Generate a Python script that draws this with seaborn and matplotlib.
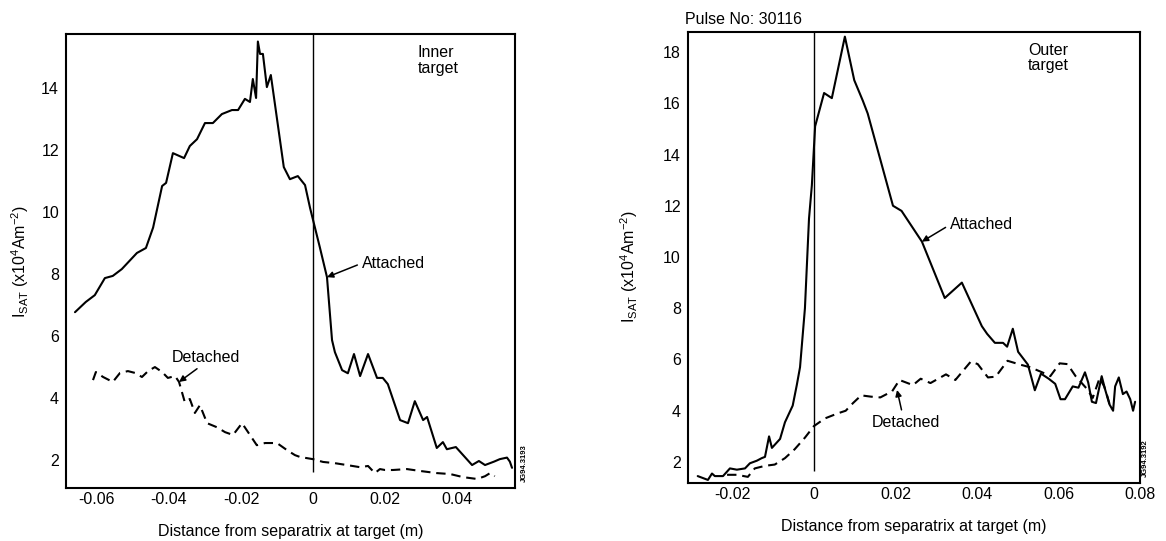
import numpy as np
import pandas as pd
import matplotlib
matplotlib.use("Agg")
import matplotlib.pyplot as plt
import seaborn as sns

# ---- Inner target (distance in m, I_sat in 1e4 A m^-2) ----
inner_att_x = [-0.0661, -0.0631, -0.0606, -0.0578, -0.0556, -0.0531, -0.0489, -0.0464,
               -0.0444, -0.0419, -0.0408, -0.0389, -0.0358, -0.0342, -0.0322, -0.0300,
               -0.0278, -0.0253, -0.0225, -0.0208, -0.0189, -0.0175, -0.0167, -0.0158,
               -0.0153, -0.0147, -0.0139, -0.0128, -0.0117, -0.0081, -0.0064, -0.0042,
               -0.0022, -0.0008, 0.0019, 0.0039, 0.0053, 0.0061, 0.0081, 0.0097,
               0.0114, 0.0131, 0.0153, 0.0178, 0.0194, 0.0208, 0.0242, 0.0264,
               0.0283, 0.0306, 0.0317, 0.0344, 0.0361, 0.0372, 0.0397, 0.0442,
               0.0461, 0.0478, 0.0503, 0.0519, 0.0539, 0.0547, 0.0553]
inner_att_y = [6.77, 7.10, 7.32, 7.87, 7.94, 8.16, 8.68, 8.84,
               9.50, 10.84, 10.94, 11.90, 11.74, 12.13, 12.35, 12.87,
               12.87, 13.16, 13.29, 13.29, 13.65, 13.55, 14.29, 13.68,
               15.50, 15.10, 15.10, 14.03, 14.42, 11.45, 11.06, 11.16,
               10.87, 10.13, 8.87, 7.90, 5.87, 5.48, 4.90, 4.80,
               5.42, 4.71, 5.42, 4.65, 4.65, 4.45, 3.29, 3.19,
               3.90, 3.29, 3.39, 2.39, 2.58, 2.35, 2.42, 1.84,
               1.97, 1.84, 1.95, 2.03, 2.08, 1.95, 1.75]

inner_det_x = [-0.0611, -0.0603, -0.0583, -0.0556, -0.0536, -0.0514, -0.0494, -0.0475,
               -0.0458, -0.0439, -0.0419, -0.0403, -0.0383, -0.0372, -0.0356, -0.0342,
               -0.0328, -0.0314, -0.0294, -0.0267, -0.0244, -0.0222, -0.0197, -0.0175,
               -0.0156, -0.0133, -0.0100, -0.0072, -0.0050, -0.0036, 0.0000, 0.0028,
               0.0061, 0.0094, 0.0131, 0.0153, 0.0172, 0.0186, 0.0200, 0.0222,
               0.0261, 0.0297, 0.0344, 0.0381, 0.0417, 0.0456, 0.0478, 0.0492, 0.0505]
inner_det_y = [4.58, 4.84, 4.68, 4.52, 4.81, 4.87, 4.81, 4.68,
               4.87, 5.00, 4.84, 4.65, 4.71, 4.52, 3.87, 3.97,
               3.52, 3.77, 3.19, 3.06, 2.90, 2.81, 3.19, 2.81,
               2.48, 2.55, 2.55, 2.32, 2.16, 2.10, 2.03, 1.94,
               1.90, 1.84, 1.77, 1.81, 1.58, 1.71, 1.68, 1.68,
               1.71, 1.65, 1.58, 1.55, 1.45, 1.39, 1.48, 1.58, 1.48]

# ---- Outer target ----
outer_att_x = [-0.0285, -0.0260, -0.0250, -0.0243, -0.0223, -0.0206, -0.0189, -0.0169,
               -0.0157, -0.0140, -0.0128, -0.0120, -0.0110, -0.0103, -0.0083, -0.0071,
               -0.0052, -0.0042, -0.0034, -0.0022, -0.0012, -0.0005, 0.0003, 0.0025,
               0.0044, 0.0076, 0.0099, 0.0120, 0.0132, 0.0194, 0.0215, 0.0265,
               0.0321, 0.0363, 0.0412, 0.0425, 0.0444, 0.0464, 0.0474, 0.0488,
               0.0501, 0.0525, 0.0542, 0.0557, 0.0576, 0.0592, 0.0605, 0.0616,
               0.0635, 0.0649, 0.0665, 0.0673, 0.0682, 0.0692, 0.0706, 0.0715,
               0.0725, 0.0734, 0.0739, 0.0748, 0.0758, 0.0767, 0.0776, 0.0783, 0.0788]
outer_att_y = [1.45, 1.30, 1.55, 1.45, 1.45, 1.75, 1.70, 1.75,
               1.95, 2.05, 2.15, 2.20, 3.00, 2.55, 2.90, 3.55,
               4.20, 5.00, 5.70, 8.00, 11.50, 12.80, 15.10, 16.40,
               16.20, 18.60, 16.90, 16.10, 15.60, 12.00, 11.80, 10.60,
               8.40, 9.00, 7.30, 7.00, 6.65, 6.65, 6.50, 7.20,
               6.30, 5.80, 4.80, 5.45, 5.25, 5.05, 4.45, 4.45,
               4.95, 4.90, 5.50, 5.10, 4.35, 4.30, 5.35, 4.80,
               4.25, 4.00, 4.95, 5.30, 4.65, 4.75, 4.45, 4.00, 4.35]

outer_det_x = [-0.0213, -0.0189, -0.0162, -0.0145, -0.0120, -0.0096, -0.0071, -0.0047,
               -0.0022, 0.0000, 0.0027, 0.0059, 0.0078, 0.0096, 0.0116, 0.0140,
               0.0163, 0.0192, 0.0210, 0.0243, 0.0262, 0.0286, 0.0324, 0.0347,
               0.0385, 0.0402, 0.0427, 0.0446, 0.0475, 0.0506, 0.0530, 0.0560,
               0.0580, 0.0603, 0.0622, 0.0642, 0.0670, 0.0684, 0.0701, 0.0712,
               0.0720, 0.0729]
outer_det_y = [1.50, 1.50, 1.42, 1.75, 1.85, 1.90, 2.15, 2.50,
               2.95, 3.40, 3.70, 3.90, 4.00, 4.30, 4.60, 4.55,
               4.52, 4.76, 5.20, 5.00, 5.25, 5.08, 5.42, 5.20,
               5.92, 5.82, 5.30, 5.33, 5.95, 5.80, 5.70, 5.50,
               5.35, 5.85, 5.82, 5.35, 4.85, 4.50, 5.28, 4.95,
               4.56, 4.05]

inner_xticks = [-0.06, -0.04, -0.02, 0.0, 0.02, 0.04]
inner_xlabels = ["-0.06", "-0.04", "-0.02", "0", "0.02", "0.04"]
inner_yticks = [2, 4, 6, 8, 10, 12, 14]
outer_xticks = [-0.02, 0.0, 0.02, 0.04, 0.06, 0.08]
outer_xlabels = ["-0.02", "0", "0.02", "0.04", "0.06", "0.08"]
outer_yticks = [2, 4, 6, 8, 10, 12, 14, 16, 18]

sns.set_style("white")
plt.rcParams["font.family"] = ["Liberation Sans", "DejaVu Sans"]
plt.rcParams["mathtext.fontset"] = "custom"
plt.rcParams["mathtext.rm"] = "Liberation Sans"
plt.rcParams["text.color"] = "black"
plt.rcParams["axes.labelcolor"] = "black"
plt.rcParams["xtick.color"] = "black"
plt.rcParams["ytick.color"] = "black"

FS = 11.5
LW = 1.5

fig = plt.figure(figsize=(11.66, 5.41), dpi=100)
ax1 = fig.add_axes([0.0566, 0.098, 0.385, 0.839])
ax2 = fig.add_axes([0.590, 0.1072, 0.3877, 0.8336])

ylabel = r"I$_{\mathregular{SAT}}$ (x10$^{\mathregular{4}}$Am$^{\mathregular{-2}}$)"
xlabel = "Distance from separatrix at target (m)"


def draw(ax, ax_x, ax_y, dx, dy):
    att = pd.DataFrame({"x": ax_x, "y": ax_y})
    det = pd.DataFrame({"x": dx, "y": dy})
    sns.lineplot(data=att, x="x", y="y", ax=ax, color="black", lw=LW,
                 estimator=None, sort=False)
    l = sns.lineplot(data=det, x="x", y="y", ax=ax, color="black", lw=LW,
                     estimator=None, sort=False)
    l.lines[-1].set_dashes((4.5, 2.8))


def style(ax, xlim, ylim, xt, xtl, yt):
    ax.set_xlim(*xlim)
    ax.set_ylim(*ylim)
    ax.set_xticks(xt)
    ax.set_xticklabels(xtl)
    ax.set_yticks(yt)
    ax.set_yticklabels([str(v) for v in yt])
    ax.tick_params(axis="x", direction="in", length=7, width=1.3, pad=3,
                   labelsize=FS, colors="black")
    ax.tick_params(axis="y", direction="in", length=9.5, width=1.3, pad=5,
                   labelsize=FS, colors="black")
    for s in ax.spines.values():
        s.set_visible(True)
        s.set_linewidth(1.5)
        s.set_color("black")
    ax.set_xlabel(xlabel, fontsize=FS, color="black")
    ax.set_ylabel(ylabel, fontsize=FS, color="black")
    ax.xaxis.set_label_coords(0.5, -0.08)


# inner target panel
draw(ax1, inner_att_x, inner_att_y, inner_det_x, inner_det_y)
style(ax1, (-0.0686, 0.0561), (1.1, 15.74), inner_xticks, inner_xlabels, inner_yticks)
ax1.vlines(0, 1.6, 15.74, color="black", lw=1.0)
ax1.yaxis.set_label_coords(-0.078, 0.5)
ax1.text(0.784, 0.976, "Inner\ntarget", transform=ax1.transAxes, ha="left", va="top",
         fontsize=FS, linespacing=1.05, color="black")
arrow = dict(arrowstyle="-|>", color="black", lw=1.1, mutation_scale=9,
             shrinkA=1, shrinkB=0)
ax1.annotate("Attached", xy=(0.0039, 7.9), xytext=(0.0136, 8.35), fontsize=FS,
             ha="left", va="center", color="black",
             arrowprops=dict(arrow, relpos=(0, 0.5)))
ax1.annotate("Detached", xy=(-0.0372, 4.52), xytext=(-0.0392, 5.32), fontsize=FS,
             ha="left", va="center", color="black",
             arrowprops=dict(arrow, relpos=(0.45, 0)))
ax1.text(1.022, 0.055, "JG94.3193", transform=ax1.transAxes, rotation=90,
         ha="center", va="center", fontsize=5.5, fontweight="bold", color="black")

# outer target panel
draw(ax2, outer_att_x, outer_att_y, outer_det_x, outer_det_y)
style(ax2, (-0.0309, 0.080), (1.18, 18.78), outer_xticks, outer_xlabels, outer_yticks)
ax2.vlines(0, 1.65, 18.78, color="black", lw=1.0)
ax2.yaxis.set_label_coords(-0.105, 0.48)
ax2.text(0.752, 0.976, "Outer\ntarget", transform=ax2.transAxes, ha="left", va="top",
         fontsize=FS, linespacing=1.05, color="black")
ax2.text(-0.007, 1.011, "Pulse No: 30116", transform=ax2.transAxes, ha="left",
         va="bottom", fontsize=FS, color="black")
ax2.annotate("Attached", xy=(0.0265, 10.6), xytext=(0.0334, 11.26), fontsize=FS,
             ha="left", va="center", color="black",
             arrowprops=dict(arrow, relpos=(0, 0.5)))
ax2.annotate("Detached", xy=(0.0204, 4.81), xytext=(0.0142, 3.56), fontsize=FS,
             ha="left", va="center", color="black",
             arrowprops=dict(arrow, relpos=(0.45, 1)))
ax2.text(1.013, 0.055, "JG94.3192", transform=ax2.transAxes, rotation=90,
         ha="center", va="center", fontsize=5.5, fontweight="bold", color="black")

fig.savefig("out.png", dpi=100, facecolor="white")
